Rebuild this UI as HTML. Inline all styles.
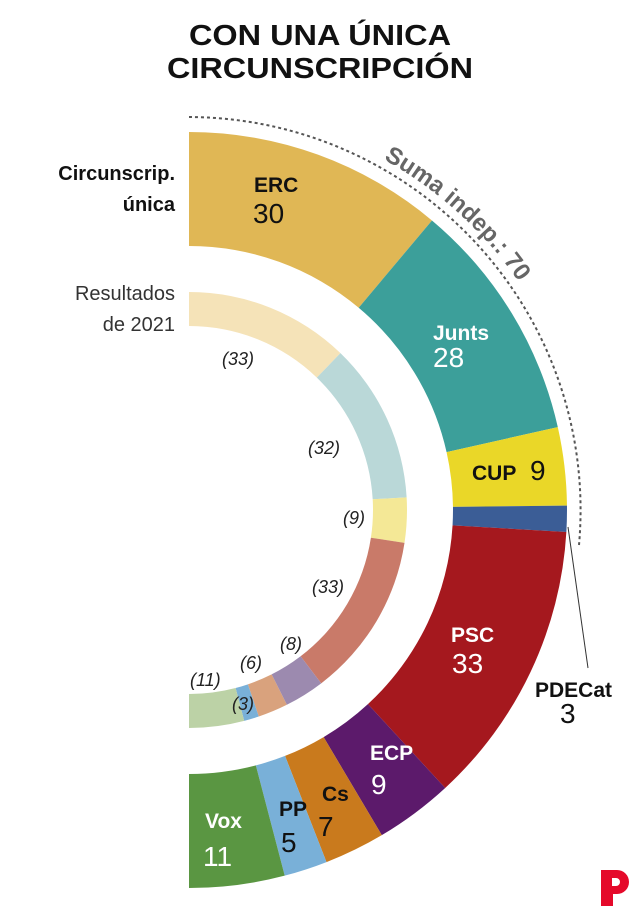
<!DOCTYPE html>
<html><head><meta charset="utf-8"><style>
html,body{margin:0;padding:0;background:#fff;}
svg{display:block;font-family:"Liberation Sans",sans-serif;}
</style></head><body>
<svg id="s" width="640" height="915" viewBox="0 0 640 915" xmlns="http://www.w3.org/2000/svg">
<text x="320" y="45" text-anchor="middle" font-size="29" font-weight="900" fill="#111" textLength="262" lengthAdjust="spacingAndGlyphs">CON UNA ÚNICA</text>
<text x="320" y="78" text-anchor="middle" font-size="29" font-weight="900" fill="#111" textLength="306" lengthAdjust="spacingAndGlyphs">CIRCUNSCRIPCIÓN</text>
<text x="175" y="180" text-anchor="end" font-size="20" font-weight="bold" fill="#111">Circunscrip.</text>
<text x="175" y="211" text-anchor="end" font-size="20" font-weight="bold" fill="#111">única</text>
<text x="175" y="300" text-anchor="end" font-size="20" fill="#333">Resultados</text>
<text x="175" y="331" text-anchor="end" font-size="20" fill="#333">de 2021</text>
<g id="arcs"></g>
<path id="suma" d="M 189 109 A 401 401 0 0 1 590 510" fill="none"/>
<path d="M 189 117 A 393 393 0 0 1 579 545" fill="none" stroke="#555" stroke-width="2" stroke-dasharray="3,3"/>
<text font-size="24" font-weight="bold" fill="#666"><textPath href="#suma" startOffset="203">Suma indep.: 70</textPath></text>
<line x1="568" y1="527" x2="588" y2="668" stroke="#333" stroke-width="1"/>
<g font-size="21" font-weight="bold">
<text x="254" y="192" fill="#111">ERC</text>
<text x="433" y="340" fill="#fff">Junts</text>
<text x="472" y="480" fill="#111">CUP</text>
<text x="451" y="642" fill="#fff">PSC</text>
<text x="370" y="760" fill="#fff">ECP</text>
<text x="322" y="801" fill="#111">Cs</text>
<text x="279" y="816" fill="#111">PP</text>
<text x="205" y="828" fill="#fff">Vox</text>
<text x="535" y="697" fill="#111">PDECat</text>
</g>
<g font-size="28">
<text x="253" y="223" fill="#111">30</text>
<text x="433" y="367" fill="#fff">28</text>
<text x="530" y="480" fill="#111">9</text>
<text x="452" y="673" fill="#fff">33</text>
<text x="371" y="794" fill="#fff">9</text>
<text x="318" y="836" fill="#111">7</text>
<text x="281" y="852" fill="#111">5</text>
<text x="203" y="866" fill="#fff">11</text>
<text x="560" y="723" fill="#111">3</text>
</g>
<g font-size="18" font-style="italic" fill="#222">
<text x="222" y="365">(33)</text>
<text x="308" y="454">(32)</text>
<text x="343" y="524">(9)</text>
<text x="312" y="593">(33)</text>
<text x="280" y="650">(8)</text>
<text x="240" y="669">(6)</text>
<text x="190" y="686">(11)</text>
<text x="232" y="710">(3)</text>
</g>
<path d="M601 870 h16 a12 12 0 0 1 0 24 h-4 v12 h-12 z M612 878 v8 h4 a4 4 0 0 0 0 -8 z" fill="#e5092a" fill-rule="evenodd"/>
</svg>
<script>
(function(){
var cx=189,cy=510;
function arc(R,r,a0,a1,col){
 var t0=a0*Math.PI/180,t1=a1*Math.PI/180;
 function p(rr,t){return (cx+rr*Math.sin(t)).toFixed(2)+' '+(cy-rr*Math.cos(t)).toFixed(2);}
 var lg=(a1-a0)>180?1:0;
 return '<path d="M '+p(R,t0)+' A '+R+' '+R+' 0 '+lg+' 1 '+p(R,t1)+' L '+p(r,t1)+' A '+r+' '+r+' 0 '+lg+' 0 '+p(r,t0)+' Z" fill="'+col+'"/>';
}
var outer=[[30,'#e0b755'],[28,'#3c9f9a'],[9,'#ead728'],[3,'#3b5d96'],[33,'#a5181e'],[9,'#5c1a6b'],[7,'#c97a1d'],[5,'#79b0d8'],[11,'#5a9642']];
var inner=[[33,'#f5e3b8'],[32,'#bad8d8'],[9,'#f4e896'],[33,'#c97a69'],[8,'#9c8aaf'],[6,'#d9a27d'],[3,'#79b0d8'],[11,'#bcd2a6']];
var h='',a=0;
outer.forEach(function(s){var b=a+s[0]*180/135;h+=arc(378,264,a,b,s[1]);a=b;});
a=0;
inner.forEach(function(s){var b=a+s[0]*180/135;h+=arc(218,184,a,b,s[1]);a=b;});
document.getElementById('arcs').innerHTML=h;
})();
</script>
</body></html>
